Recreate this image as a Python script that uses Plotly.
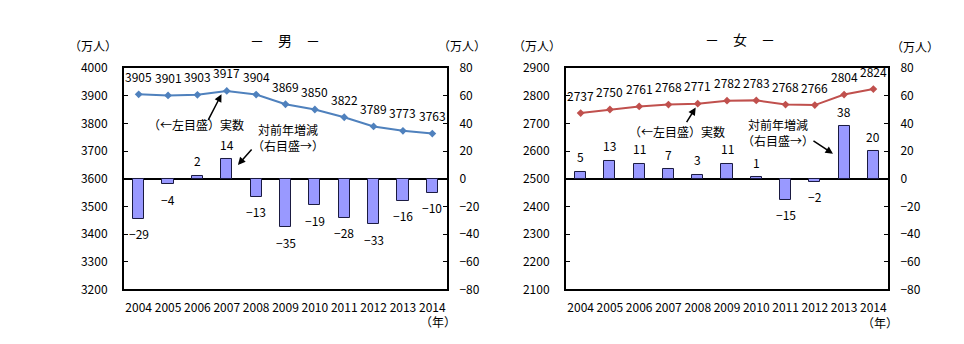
import plotly.graph_objects as go

years = ["2004", "2005", "2006", "2007", "2008", "2009", "2010", "2011", "2012", "2013", "2014"]

male_total = [3905, 3901, 3903, 3917, 3904, 3869, 3850, 3822, 3789, 3773, 3763]
male_change = [-29, -4, 2, 14, -13, -35, -19, -28, -33, -16, -10]

female_total = [2737, 2750, 2761, 2768, 2771, 2782, 2783, 2768, 2766, 2804, 2824]
female_change = [5, 13, 11, 7, 3, 11, 1, -15, -2, 38, 20]

male_left_ticks = [3200, 3300, 3400, 3500, 3600, 3700, 3800, 3900, 4000]
female_left_ticks = [2100, 2200, 2300, 2400, 2500, 2600, 2700, 2800, 2900]
right_ticks = [-80, -60, -40, -20, 0, 20, 40, 60, 80]

W, H = 964, 344
FONT = "Noto Sans CJK JP"
BAR_FILL = "#9999ff"
BAR_EDGE = "#1a1a40"
MALE_LINE = "#4f81bd"
FEMALE_LINE = "#c0504d"

x_idx = list(range(len(years)))


def px(x):
    return x / W


def py(y):
    return 1 - y / H


def fmt(v):
    return str(v).replace("-", "−")


fig = go.Figure()

panels = [
    # bars axis pair, line axis pair, data, colour
    (("x", "y2"), ("x", "y"), male_change, male_total, MALE_LINE),
    (("x2", "y4"), ("x2", "y3"), female_change, female_total, FEMALE_LINE),
]

for (bx, by), (lx, ly), change, total, colour in panels:
    fig.add_trace(go.Bar(
        x=x_idx, y=change, xaxis=bx, yaxis=by, width=0.38,
        marker=dict(color=BAR_FILL, line=dict(color=BAR_EDGE, width=1)),
        showlegend=False, hoverinfo="x+y"))
    fig.add_trace(go.Scatter(
        x=x_idx, y=total, xaxis=lx, yaxis=ly, mode="lines+markers",
        line=dict(color=colour, width=2),
        marker=dict(symbol="diamond", size=6, color=colour),
        showlegend=False, cliponaxis=False))
    # value labels
    for i, v in zip(x_idx, change):
        fig.add_annotation(text=fmt(v), x=i, y=v, xref=bx, yref=by, showarrow=False,
                           yshift=15 if v >= 0 else -15, xanchor="center", yanchor="middle",
                           font=dict(size=12, color="black", family=FONT))
    for i, v in zip(x_idx, total):
        fig.add_annotation(text=str(v), x=i, y=v, xref=lx, yref=ly, showarrow=False,
                           yshift=18, xanchor="center", yanchor="middle",
                           font=dict(size=12, color="black", family=FONT))

tickfont = dict(size=12, color="black", family=FONT)
male_dom_x = [px(124), px(447)]
female_dom_x = [px(566), px(888)]
dom_y = [py(294), py(61)]


def xaxis(domain, anchor):
    return dict(domain=domain, anchor=anchor, range=[-0.5, 10.5],
                tickmode="array", tickvals=x_idx, ticktext=years, tickfont=tickfont,
                showline=True, linecolor="black", linewidth=2, mirror=True,
                ticks="", ticklabelstandoff=6, showgrid=False, zeroline=False)


def yleft(rng, vals, anchor):
    return dict(domain=dom_y, anchor=anchor, range=rng, tickmode="array", tickvals=vals,
                ticktext=[str(v) for v in vals], tickfont=tickfont, showline=True,
                linecolor="black", linewidth=2, ticks="inside", ticklen=4, tickcolor="black",
                ticklabelstandoff=12, showgrid=False, zeroline=False)


def yright(overlay, anchor):
    return dict(domain=dom_y, anchor=anchor, overlaying=overlay, side="right", range=[-80, 80],
                tickmode="array", tickvals=right_ticks,
                ticktext=[fmt(v) for v in right_ticks], tickfont=tickfont,
                showline=True, linecolor="black", linewidth=2, ticks="inside", ticklen=4,
                tickcolor="black", ticklabelstandoff=8, showgrid=False, zeroline=True,
                zerolinecolor="black", zerolinewidth=1.5)


fig.update_layout(
    width=W, height=H, margin=dict(l=0, r=0, t=0, b=0),
    paper_bgcolor="white", plot_bgcolor="white", bargap=0,
    font=dict(family=FONT, color="black"),
    xaxis=xaxis(male_dom_x, "y"),
    yaxis=yleft([3200, 4000], male_left_ticks, "x"),
    yaxis2=yright("y", "x"),
    xaxis2=xaxis(female_dom_x, "y3"),
    yaxis3=yleft([2100, 2900], female_left_ticks, "x2"),
    yaxis4=yright("y3", "x2"),
)

texts = [
    ("－　男　－", 285, 32, 14),
    ("－　女　－", 740, 31, 14),
    ("（万人）", 93, 37, 12),
    ("（万人）", 462, 37, 12),
    ("（万人）", 537, 37, 12),
    ("（万人）", 915, 38, 12),
    ("（年）", 438, 328, 12),
    ("（年）", 880, 329, 12),
    ("（←左目盛）実数", 196, 120, 12),
    ("対前年増減<br>（右目盛→）", 288, 134, 12),
    ("（←左目盛）実数", 677, 128, 12),
    ("対前年増減<br>（右目盛→）", 778, 129, 12),
]
for t, x, y, s in texts:
    fig.add_annotation(text=t, x=px(x), y=py(y), xref="paper", yref="paper",
                       xanchor="center", yanchor="middle", showarrow=False,
                       font=dict(size=s, color="black", family=FONT))

arrows = [
    ("x", "y", 2.82, 3905, -14, 27),
    ("x", "y2", 3.38, 10, 15, -17),
    ("x2", "y3", 3.93, 2757, -10, 16),
    ("x2", "y4", 8.62, 18, -21, -14),
]
for xr, yr, x, y, ax, ay in arrows:
    fig.add_annotation(text="", x=x, y=y, xref=xr, yref=yr, ax=ax, ay=ay,
                       axref="pixel", ayref="pixel", showarrow=True,
                       arrowhead=2, arrowsize=1, arrowwidth=1.5, arrowcolor="black")

fig.write_html("out.html")
